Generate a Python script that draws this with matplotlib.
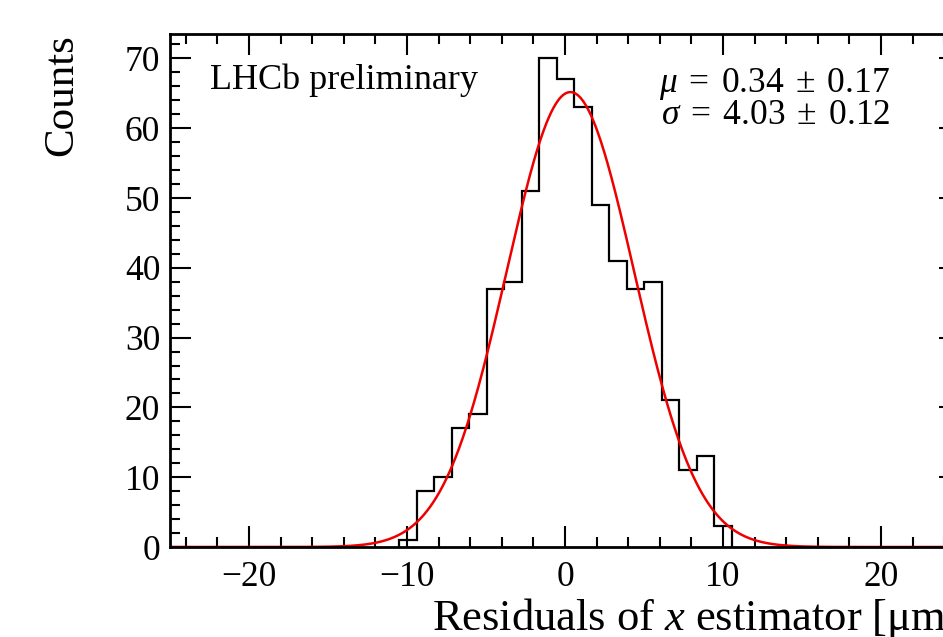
import numpy as np
import matplotlib
matplotlib.use("Agg")
import matplotlib.pyplot as plt
from matplotlib.ticker import MultipleLocator

# ---- data ----
bin_low = -10.50
bin_high = 10.56
counts = [1, 8, 10, 17, 19, 37, 38, 51, 70, 67, 63, 49, 41, 37, 38, 21, 11, 13, 3]
fit_mu = 0.34
fit_mu_err = 0.17
fit_sigma = 4.03
fit_sigma_err = 0.12
x_ticks = [-20, -10, 0, 10, 20]
y_ticks = [0, 10, 20, 30, 40, 50, 60, 70]

plt.rcParams['font.family'] = ['Liberation Serif', 'DejaVu Serif']
plt.rcParams['mathtext.fontset'] = 'custom'
plt.rcParams['mathtext.rm'] = 'Liberation Serif'
plt.rcParams['mathtext.it'] = 'Liberation Serif:italic'
plt.rcParams['axes.unicode_minus'] = True

W, H = 943, 637
fig = plt.figure(figsize=(W / 100, H / 100), dpi=100)
ax = fig.add_axes([170 / W, 90 / H, (960 - 170) / W, (547 - 34) / H])

counts = np.array(counts, dtype=float)
edges = np.linspace(bin_low, bin_high, len(counts) + 1)
bw = edges[1] - edges[0]
ax.stairs(counts, edges, color='black', linewidth=1.6, baseline=0)

amp = counts.sum() * bw / (np.sqrt(2 * np.pi) * fit_sigma)
xs = np.linspace(-25, 25, 1000)
ax.plot(xs, amp * np.exp(-0.5 * ((xs - fit_mu) / fit_sigma) ** 2), color='#ee0000', linewidth=1.8)

ax.set_xlim(-25, 25)
ax.set_ylim(0, 73.5)
ax.set_xticks(x_ticks)
ax.set_yticks(y_ticks)
ax.xaxis.set_minor_locator(MultipleLocator(2))
ax.yaxis.set_minor_locator(MultipleLocator(2))
ax.tick_params(which='both', direction='in', top=True, right=True, labelsize=25.5, width=1.5)
ax.tick_params(which='major', length=15)
ax.tick_params(which='minor', length=7.5)
ax.tick_params(axis='x', pad=10)
ax.tick_params(axis='y', pad=7)
for s in ax.spines.values():
    s.set_linewidth(2)

fig.text(432 / W, 1 - 630 / H, r'Residuals of $x$ estimator [μm]', fontsize=32,
         ha='left', va='baseline')
fig.text(62 / W, 1 - 95 / H, 'Counts', fontsize=31, rotation=90,
         ha='center', va='center')

ax.text(210 / W, 1 - 89 / H, 'LHCb preliminary', transform=fig.transFigure, fontsize=26,
        ha='left', va='baseline')
ax.text(890 / W, 1 - 92 / H, r'$\mu\;=\;%.2f\;\pm\;%.2f$' % (fit_mu, fit_mu_err),
        transform=fig.transFigure, fontsize=25.5, ha='right', va='baseline')
ax.text(890 / W, 1 - 124 / H, r'$\sigma\;=\;%.2f\;\pm\;%.2f$' % (fit_sigma, fit_sigma_err),
        transform=fig.transFigure, fontsize=25.5, ha='right', va='baseline')

fig.savefig('out.png', dpi=100)
